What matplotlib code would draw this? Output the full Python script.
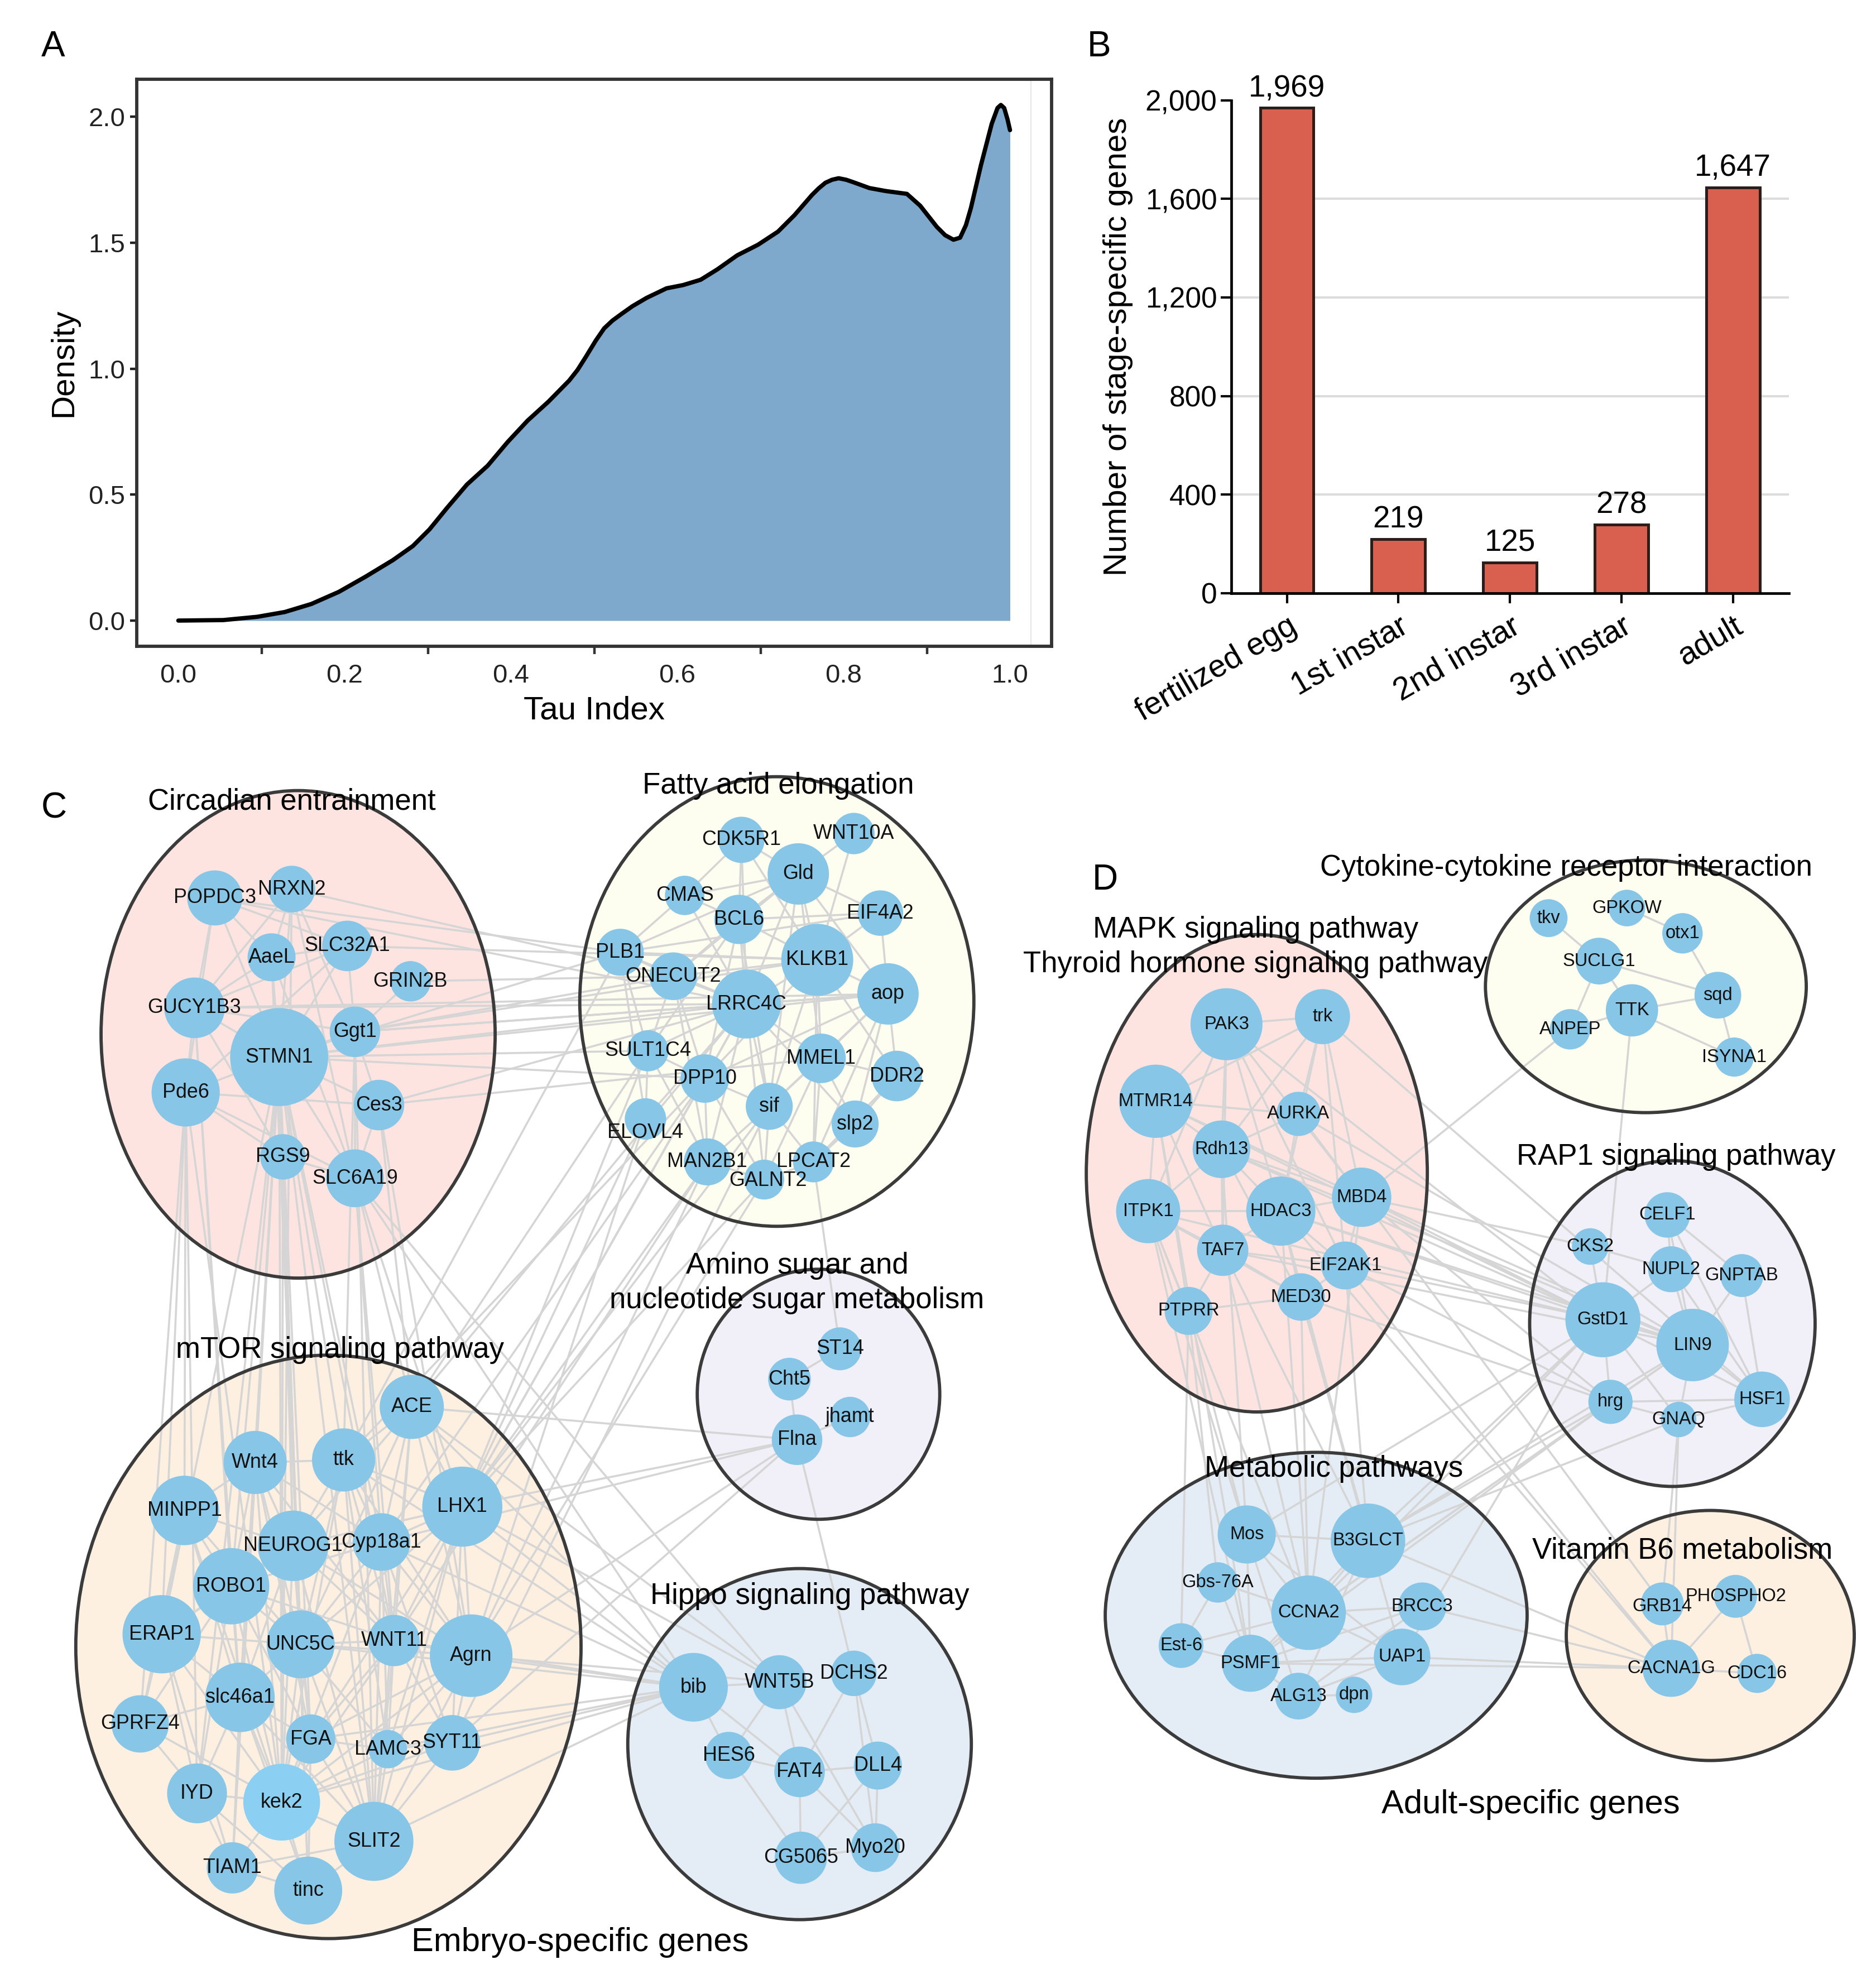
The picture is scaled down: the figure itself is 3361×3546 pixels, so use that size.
import matplotlib
matplotlib.use('Agg')
import matplotlib.pyplot as plt
from matplotlib.patches import Ellipse, Circle
from matplotlib.collections import LineCollection

plt.rcParams['font.family'] = ['Liberation Sans', 'DejaVu Sans']

# ------------------------------------------------------------------ data
# Panel A: density of tau index
tau = [0.000, 0.054, 0.095, 0.128, 0.160, 0.193, 0.225, 0.258, 0.282, 0.302,
       0.323, 0.347, 0.372, 0.396, 0.420, 0.445, 0.470, 0.480, 0.490, 0.502,
       0.512, 0.522, 0.534, 0.546, 0.563, 0.587, 0.607, 0.628, 0.648, 0.672,
       0.697, 0.721, 0.741, 0.762, 0.770, 0.778, 0.786, 0.794, 0.803, 0.811,
       0.831, 0.851, 0.876, 0.892, 0.912, 0.922, 0.932, 0.940, 0.947, 0.953,
       0.965, 0.978, 0.985, 0.989, 0.993, 0.997, 1.000]
density = [0.000, 0.002, 0.015, 0.034, 0.066, 0.114, 0.174, 0.240, 0.296, 0.362,
           0.447, 0.540, 0.615, 0.709, 0.794, 0.869, 0.953, 0.995, 1.047, 1.112,
           1.160, 1.191, 1.220, 1.248, 1.281, 1.319, 1.332, 1.353, 1.394, 1.450,
           1.492, 1.544, 1.610, 1.690, 1.716, 1.738, 1.750, 1.756, 1.750, 1.741,
           1.717, 1.705, 1.694, 1.647, 1.563, 1.530, 1.512, 1.520, 1.570, 1.638,
           1.807, 1.972, 2.035, 2.047, 2.035, 1.990, 1.947]
a_xticks = [0.0, 0.2, 0.4, 0.6, 0.8, 1.0]
a_yticks = [0.0, 0.5, 1.0, 1.5, 2.0]

# Panel B: number of stage-specific genes
stages = ['fertilized egg', '1st instar', '2nd instar', '3rd instar', 'adult']
counts = [1969, 219, 125, 278, 1647]
b_yticks = [0, 400, 800, 1200, 1600, 2000]

# Panel C: embryo-specific gene network
c_groups = {
    'Circadian entrainment': ['POPDC3', 'NRXN2', 'AaeL', 'SLC32A1', 'GRIN2B', 'GUCY1B3',
                              'STMN1', 'Ggt1', 'Pde6', 'Ces3', 'RGS9', 'SLC6A19'],
    'Fatty acid elongation': ['CDK5R1', 'WNT10A', 'Gld', 'CMAS', 'BCL6', 'EIF4A2', 'PLB1',
                              'KLKB1', 'ONECUT2', 'aop', 'LRRC4C', 'SULT1C4', 'MMEL1',
                              'DPP10', 'DDR2', 'sif', 'slp2', 'ELOVL4', 'MAN2B1',
                              'LPCAT2', 'GALNT2'],
    'Amino sugar and\nnucleotide sugar metabolism': ['ST14', 'Cht5', 'jhamt', 'Flna'],
    'mTOR signaling pathway': ['ACE', 'Wnt4', 'ttk', 'MINPP1', 'LHX1', 'NEUROG1', 'Cyp18a1',
                               'ROBO1', 'ERAP1', 'UNC5C', 'WNT11', 'Agrn', 'slc46a1',
                               'GPRFZ4', 'FGA', 'LAMC3', 'SYT11', 'IYD', 'kek2', 'SLIT2',
                               'TIAM1', 'tinc'],
    'Hippo signaling pathway': ['bib', 'WNT5B', 'DCHS2', 'HES6', 'FAT4', 'DLL4',
                                'CG5065', 'Myo20'],
}
c_adj = {
    # circadian internal
    'POPDC3': ['GUCY1B3', 'STMN1', 'AaeL', 'SLC32A1', 'PLB1', 'LRRC4C', 'Pde6'],
    'NRXN2': ['AaeL', 'STMN1', 'SLC6A19', 'Ggt1', 'ONECUT2', 'kek2', 'GUCY1B3'],
    'AaeL': ['GUCY1B3', 'SLC32A1', 'STMN1', 'SLC6A19', 'UNC5C'],
    'SLC32A1': ['Ggt1', 'GUCY1B3', 'STMN1', 'KLKB1', 'Pde6'],
    'GRIN2B': ['Ggt1', 'ONECUT2'],
    'GUCY1B3': ['STMN1', 'Pde6', 'Ggt1', 'RGS9', 'LRRC4C', 'aop', 'ROBO1', 'slc46a1'],
    'STMN1': ['Pde6', 'Ggt1', 'Ces3', 'RGS9', 'SLC6A19', 'LRRC4C', 'SULT1C4', 'DPP10',
              'aop', 'PLB1', 'Wnt4', 'ttk', 'NEUROG1', 'ROBO1', 'UNC5C', 'slc46a1', 'kek2',
              'FGA', 'tinc', 'SLIT2', 'Cyp18a1', 'ERAP1', 'IYD', 'TIAM1', 'WNT11'],
    'Ggt1': ['Ces3', 'SLC6A19', 'LRRC4C', 'KLKB1', 'aop', 'ONECUT2', 'ttk', 'SLIT2'],
    'Pde6': ['Ces3', 'SLC6A19', 'RGS9', 'MINPP1', 'ERAP1', 'kek2', 'IYD', 'GPRFZ4'],
    'Ces3': ['SLC6A19', 'MMEL1', 'LRRC4C', 'ACE', 'Agrn'],
    'RGS9': ['SLC6A19', 'NEUROG1', 'kek2', 'UNC5C'],
    'SLC6A19': ['LHX1', 'ACE', 'Cyp18a1', 'WNT11', 'WNT5B', 'bib'],
    # fatty acid internal
    'CDK5R1': ['Gld', 'BCL6', 'CMAS', 'KLKB1', 'LRRC4C'],
    'WNT10A': ['Gld', 'KLKB1'],
    'Gld': ['BCL6', 'EIF4A2', 'KLKB1', 'LRRC4C', 'aop', 'MMEL1', 'ONECUT2', 'PLB1', 'sif', 'CMAS'],
    'CMAS': ['BCL6', 'PLB1', 'LRRC4C'],
    'BCL6': ['KLKB1', 'LRRC4C', 'ONECUT2', 'SULT1C4', 'DPP10', 'sif', 'EIF4A2'],
    'EIF4A2': ['KLKB1', 'aop', 'PLB1'],
    'PLB1': ['ONECUT2', 'LRRC4C', 'KLKB1', 'SULT1C4', 'ELOVL4', 'ttk'],
    'KLKB1': ['LRRC4C', 'aop', 'MMEL1', 'DDR2', 'sif', 'ONECUT2', 'DPP10', 'LPCAT2'],
    'ONECUT2': ['LRRC4C', 'SULT1C4', 'DPP10', 'MAN2B1'],
    'aop': ['LRRC4C', 'MMEL1', 'DDR2', 'slp2', 'sif', 'LPCAT2', 'DPP10'],
    'LRRC4C': ['SULT1C4', 'DPP10', 'MMEL1', 'sif', 'MAN2B1', 'GALNT2', 'slp2', 'ELOVL4',
               'ACE', 'LHX1'],
    'SULT1C4': ['DPP10', 'ELOVL4', 'MAN2B1', 'LHX1', 'ACE'],
    'MMEL1': ['DDR2', 'sif', 'slp2', 'LPCAT2', 'GALNT2'],
    'DPP10': ['sif', 'MAN2B1', 'GALNT2', 'LHX1', 'Cyp18a1', 'ttk'],
    'DDR2': ['slp2', 'LPCAT2'],
    'sif': ['GALNT2', 'MAN2B1', 'LPCAT2', 'LHX1', 'SYT11'],
    'slp2': ['LPCAT2'],
    'MAN2B1': ['GALNT2', 'LHX1', 'Agrn', 'WNT11'],
    'LPCAT2': ['GALNT2', 'ST14'],
    'ELOVL4': ['LHX1', 'Agrn'],
    'GALNT2': ['Agrn', 'LHX1'],
    # amino sugar
    'ST14': ['Cht5'],
    'Cht5': ['Flna'],
    'Flna': ['jhamt', 'DCHS2', 'LHX1', 'Agrn', 'ACE', 'SYT11', 'Cyp18a1'],
    # mTOR internal
    'MINPP1': ['Wnt4', 'ROBO1', 'ERAP1', 'NEUROG1', 'UNC5C', 'slc46a1', 'kek2', 'GPRFZ4'],
    'Wnt4': ['ttk', 'NEUROG1', 'ROBO1', 'UNC5C', 'Cyp18a1', 'WNT11', 'FGA', 'kek2', 'slc46a1'],
    'ttk': ['ACE', 'LHX1', 'Cyp18a1', 'NEUROG1', 'UNC5C', 'WNT11', 'Agrn', 'SLIT2', 'LAMC3',
            'kek2', 'bib'],
    'ACE': ['LHX1', 'Cyp18a1', 'WNT11', 'Agrn', 'UNC5C', 'NEUROG1', 'SLIT2', 'bib', 'WNT5B'],
    'LHX1': ['Cyp18a1', 'WNT11', 'Agrn', 'SYT11', 'NEUROG1', 'UNC5C', 'SLIT2', 'LAMC3', 'FGA',
             'bib', 'WNT5B'],
    'NEUROG1': ['Cyp18a1', 'ROBO1', 'UNC5C', 'slc46a1', 'WNT11', 'Agrn', 'FGA', 'kek2', 'SLIT2',
                'ERAP1'],
    'Cyp18a1': ['UNC5C', 'WNT11', 'Agrn', 'SYT11', 'LAMC3', 'SLIT2', 'kek2', 'ROBO1', 'bib'],
    'ROBO1': ['ERAP1', 'UNC5C', 'slc46a1', 'kek2', 'IYD', 'GPRFZ4', 'FGA', 'WNT11'],
    'ERAP1': ['slc46a1', 'GPRFZ4', 'IYD', 'UNC5C', 'kek2', 'TIAM1'],
    'UNC5C': ['WNT11', 'slc46a1', 'FGA', 'kek2', 'SLIT2', 'Agrn', 'LAMC3', 'tinc', 'bib'],
    'WNT11': ['Agrn', 'SYT11', 'LAMC3', 'SLIT2', 'FGA', 'kek2', 'bib'],
    'Agrn': ['SYT11', 'LAMC3', 'SLIT2', 'FGA', 'kek2', 'bib', 'WNT5B'],
    'slc46a1': ['GPRFZ4', 'IYD', 'FGA', 'kek2', 'tinc', 'TIAM1', 'SLIT2'],
    'GPRFZ4': ['IYD', 'kek2'],
    'FGA': ['kek2', 'SLIT2', 'LAMC3', 'tinc', 'bib'],
    'LAMC3': ['SYT11', 'SLIT2', 'kek2', 'bib'],
    'SYT11': ['SLIT2', 'kek2', 'bib'],
    'IYD': ['kek2', 'TIAM1', 'tinc'],
    'kek2': ['SLIT2', 'tinc', 'TIAM1', 'bib'],
    'SLIT2': ['tinc', 'TIAM1', 'bib'],
    'TIAM1': ['tinc'],
    # hippo internal
    'bib': ['WNT5B', 'HES6', 'FAT4'],
    'WNT5B': ['HES6', 'FAT4', 'Myo20'],
    'DCHS2': ['FAT4', 'DLL4', 'Myo20'],
    'HES6': ['FAT4', 'CG5065'],
    'FAT4': ['DLL4', 'CG5065', 'Myo20'],
    'DLL4': ['CG5065', 'Myo20'],
    'CG5065': ['Myo20'],
}

# Panel D: adult-specific gene network
d_groups = {
    'Cytokine-cytokine receptor interaction': ['tkv', 'GPKOW', 'otx1', 'SUCLG1', 'sqd', 'TTK',
                                               'ANPEP', 'ISYNA1'],
    'MAPK signaling pathway\nThyroid hormone signaling pathway': [
        'PAK3', 'trk', 'MTMR14', 'AURKA', 'Rdh13', 'ITPK1', 'HDAC3', 'MBD4', 'TAF7',
        'EIF2AK1', 'MED30', 'PTPRR'],
    'RAP1 signaling pathway': ['CELF1', 'CKS2', 'NUPL2', 'GNPTAB', 'GstD1', 'LIN9', 'hrg',
                               'GNAQ', 'HSF1'],
    'Metabolic pathways': ['Mos', 'B3GLCT', 'Gbs-76A', 'CCNA2', 'BRCC3', 'Est-6', 'PSMF1',
                           'UAP1', 'ALG13', 'dpn'],
    'Vitamin B6 metabolism': ['GRB14', 'PHOSPHO2', 'CACNA1G', 'CDC16'],
}
d_adj = {
    'tkv': ['SUCLG1'],
    'GPKOW': ['otx1'],
    'otx1': ['sqd'],
    'SUCLG1': ['sqd', 'TTK', 'ANPEP'],
    'TTK': ['sqd', 'ISYNA1', 'ANPEP', 'GstD1'],
    'sqd': ['ISYNA1'],
    'ANPEP': ['MBD4'],
    'PAK3': ['trk', 'MTMR14', 'Rdh13', 'ITPK1', 'HDAC3', 'TAF7', 'MBD4', 'EIF2AK1', 'GstD1'],
    'trk': ['MTMR14', 'Rdh13', 'AURKA', 'HDAC3', 'MBD4', 'EIF2AK1', 'HSF1'],
    'MTMR14': ['AURKA', 'Rdh13', 'ITPK1', 'TAF7', 'PTPRR', 'MBD4', 'GstD1', 'PSMF1'],
    'AURKA': ['HDAC3', 'MBD4', 'Rdh13', 'LIN9'],
    'Rdh13': ['ITPK1', 'HDAC3', 'TAF7', 'MBD4', 'MED30', 'GstD1', 'LIN9', 'Mos'],
    'ITPK1': ['HDAC3', 'TAF7', 'PTPRR', 'MED30', 'GstD1', 'Mos', 'CCNA2', 'PSMF1'],
    'HDAC3': ['MBD4', 'TAF7', 'EIF2AK1', 'MED30', 'GstD1', 'LIN9', 'B3GLCT', 'CCNA2', 'CACNA1G'],
    'TAF7': ['PTPRR', 'MED30', 'EIF2AK1', 'LIN9', 'CCNA2', 'B3GLCT'],
    'MED30': ['PTPRR', 'EIF2AK1', 'hrg', 'CCNA2', 'B3GLCT', 'UAP1'],
    'MBD4': ['EIF2AK1', 'GstD1', 'LIN9', 'hrg', 'CKS2', 'CCNA2', 'GRB14'],
    'EIF2AK1': ['GstD1', 'hrg', 'B3GLCT', 'CACNA1G'],
    'PTPRR': ['Est-6', 'Mos', 'Gbs-76A'],
    'CELF1': ['NUPL2', 'GNPTAB', 'LIN9', 'HSF1'],
    'CKS2': ['NUPL2', 'GstD1'],
    'NUPL2': ['GstD1', 'LIN9', 'HSF1'],
    'GNPTAB': ['LIN9', 'HSF1'],
    'GstD1': ['LIN9', 'hrg', 'HSF1', 'GNAQ', 'B3GLCT', 'CCNA2', 'Mos', 'UAP1'],
    'LIN9': ['hrg', 'GNAQ', 'HSF1', 'B3GLCT', 'CCNA2'],
    'hrg': ['HSF1', 'GNAQ', 'B3GLCT', 'PSMF1', 'CCNA2'],
    'GNAQ': ['HSF1', 'B3GLCT', 'GRB14', 'CACNA1G'],
    'Mos': ['B3GLCT', 'CCNA2', 'PSMF1', 'UAP1', 'ALG13'],
    'B3GLCT': ['CCNA2', 'PSMF1', 'ALG13', 'CACNA1G'],
    'Gbs-76A': ['Est-6', 'PSMF1', 'CCNA2'],
    'CCNA2': ['UAP1', 'BRCC3', 'PSMF1', 'Est-6'],
    'Est-6': ['PSMF1'],
    'PSMF1': ['UAP1', 'ALG13', 'CACNA1G'],
    'UAP1': ['ALG13', 'CACNA1G'],
    'BRCC3': ['ALG13', 'PSMF1', 'CACNA1G'],
    'ALG13': ['dpn'],
    'GRB14': ['CACNA1G'],
    'PHOSPHO2': ['CACNA1G', 'CDC16'],
    'CACNA1G': ['CDC16'],
}

# ------------------------------------------------------------------ layout (positions, sizes)
W, H = 1485.2, 1567.0   # reference frame in which positions were read
c_pos = {
    'POPDC3': (170, 711, 21.8), 'NRXN2': (231, 704, 18.5), 'AaeL': (215, 758, 19),
    'SLC32A1': (275, 749, 20), 'GRIN2B': (325, 777, 16), 'GUCY1B3': (154, 798, 24),
    'STMN1': (221, 837, 38.8), 'Ggt1': (281, 817, 20), 'Pde6': (147, 865, 27),
    'Ces3': (300, 875, 20), 'RGS9': (224, 916, 18), 'SLC6A19': (281, 933, 22.9),
    'CDK5R1': (587, 665, 18.3), 'WNT10A': (676, 660, 16.4), 'Gld': (632, 692, 24.3),
    'CMAS': (542, 709, 15.6), 'BCL6': (585, 728, 19.5), 'EIF4A2': (697, 723, 18),
    'PLB1': (491, 754, 18.6), 'KLKB1': (647, 760, 28.5), 'ONECUT2': (533, 773, 18.9),
    'aop': (703, 787, 24.3), 'LRRC4C': (591, 795, 27.3), 'SULT1C4': (513, 832, 16.3),
    'MMEL1': (650, 838, 19.6), 'DPP10': (558, 854, 19.2), 'DDR2': (710, 852, 20),
    'sif': (609, 876, 18.6), 'slp2': (677, 890, 18.6), 'ELOVL4': (511, 886, 16.4),
    'MAN2B1': (560, 920, 18.6), 'LPCAT2': (644, 920, 16.2), 'GALNT2': (605, 934, 15.8),
    'ST14': (665, 1068, 17), 'Cht5': (625, 1092, 16.9), 'jhamt': (673, 1122, 16),
    'Flna': (631, 1140, 20),
    'ACE': (326, 1114, 25.4), 'Wnt4': (202, 1158, 25), 'ttk': (272, 1156, 25),
    'MINPP1': (146, 1196, 27.5), 'LHX1': (366, 1193, 31.7), 'NEUROG1': (232, 1224, 27.9),
    'Cyp18a1': (302, 1221, 22.8), 'ROBO1': (183, 1256, 30.2), 'ERAP1': (128, 1294, 31),
    'UNC5C': (238, 1302, 26.9), 'WNT11': (312, 1299, 20.3), 'Agrn': (373, 1311, 32.7),
    'slc46a1': (190, 1344, 27.5), 'GPRFZ4': (111, 1365, 22.7), 'FGA': (246, 1377, 19.5),
    'LAMC3': (307, 1385, 15.2), 'SYT11': (358, 1380, 22), 'IYD': (156, 1420, 23.7),
    'kek2': (223, 1427, 30.4), 'SLIT2': (296, 1458, 31.3), 'TIAM1': (184, 1479, 20.3),
    'tinc': (244, 1497, 26.9),
    'bib': (549, 1336, 27.2), 'WNT5B': (617, 1332, 21.4), 'DCHS2': (676, 1325, 18),
    'HES6': (577, 1390, 18.7), 'FAT4': (633, 1403, 20), 'DLL4': (695, 1398, 19),
    'CG5065': (634, 1471, 20.7), 'Myo20': (693, 1463, 19.3),
}
c_label_shift = {'ELOVL4': (0, 11), 'GALNT2': (3, 1)}
c_ell = {  # cx, cy, rx, ry, fill
    'Circadian entrainment': (236, 819, 156, 193, '#FDE4E0'),
    'Fatty acid elongation': (615, 793, 156, 178, '#FEFEF0'),
    'Amino sugar and\nnucleotide sugar metabolism': (648, 1104, 96, 99, '#F1F0F9'),
    'mTOR signaling pathway': (260, 1304, 200, 231, '#FDF0E1'),
    'Hippo signaling pathway': (633, 1381, 136, 139, '#E4EDF6'),
}
c_title = {
    'Circadian entrainment': (231, 635),
    'Fatty acid elongation': (616, 622),
    'Amino sugar and\nnucleotide sugar metabolism': (631, 1016),
    'mTOR signaling pathway': (269, 1069),
    'Hippo signaling pathway': (641, 1264),
}
d_pos = {
    'tkv': (1226, 727, 15), 'GPKOW': (1288, 719, 14.5), 'otx1': (1332, 739, 16),
    'SUCLG1': (1266, 761, 18.5), 'sqd': (1360, 788, 18.5), 'TTK': (1292, 800, 20.7),
    'ANPEP': (1243, 815, 16), 'ISYNA1': (1373, 837, 15.5),
    'PAK3': (971, 811, 28.5), 'trk': (1047, 805, 21.8), 'MTMR14': (915, 872, 29),
    'AURKA': (1028, 882, 17.5), 'Rdh13': (967, 910, 22.8), 'ITPK1': (909, 959, 25.4),
    'HDAC3': (1014, 959, 27.4), 'MBD4': (1078, 948, 23.5), 'TAF7': (968, 990, 20.3),
    'EIF2AK1': (1065, 1002, 19), 'MED30': (1030, 1027, 18.8), 'PTPRR': (941, 1038, 19),
    'CELF1': (1320, 962, 18), 'CKS2': (1259, 987, 14.5), 'NUPL2': (1323, 1005, 18.2),
    'GNPTAB': (1379, 1010, 17), 'GstD1': (1269, 1045, 29.7), 'LIN9': (1340, 1065, 28.7),
    'hrg': (1275, 1110, 17.5), 'GNAQ': (1329, 1124, 14), 'HSF1': (1395, 1108, 22),
    'Mos': (987, 1215, 23), 'B3GLCT': (1083, 1220, 29.5), 'Gbs-76A': (964, 1253, 16),
    'CCNA2': (1036, 1277, 29.5), 'BRCC3': (1126, 1272, 19), 'Est-6': (935, 1303, 17.7),
    'PSMF1': (990, 1317, 22.6), 'UAP1': (1110, 1312, 22.4), 'ALG13': (1028, 1343, 18.5),
    'dpn': (1072, 1342, 14.4),
    'GRB14': (1316, 1270, 17), 'PHOSPHO2': (1374, 1264, 17), 'CACNA1G': (1323, 1321, 22.6),
    'CDC16': (1391, 1325, 15.5),
}
d_label_shift = {'GRB14': (0, 2)}
d_ell = {
    'Cytokine-cytokine receptor interaction': (1303, 781, 127, 100, '#FEFEF0'),
    'MAPK signaling pathway\nThyroid hormone signaling pathway': (995, 929, 135, 189, '#FDE4E0'),
    'RAP1 signaling pathway': (1324, 1048, 113, 129, '#F1F0F9'),
    'Metabolic pathways': (1042, 1279, 167, 129, '#E4EDF6'),
    'Vitamin B6 metabolism': (1354, 1295, 114, 99, '#FDF0E1'),
}
d_title = {
    'Cytokine-cytokine receptor interaction': (1240, 687),
    'MAPK signaling pathway\nThyroid hormone signaling pathway': (994, 750),
    'RAP1 signaling pathway': (1327, 916),
    'Metabolic pathways': (1056, 1163),
    'Vitamin B6 metabolism': (1332, 1228),
}

NODE = '#88C6E8'
EDGE = '#D5D5D5'
BORDER = '#3B3B3B'

fig = plt.figure(figsize=(33.61, 35.46), dpi=100)

# ------------------------------------------------------------------ network canvas
net = fig.add_axes([0, 0, 1, 1])
net.set_xlim(0, W)
net.set_ylim(H, 0)
net.axis('off')


def draw_network(ax, groups, adj, pos, ell, titles, shifts, fs, bright=()):
    for g, (cx, cy, rx, ry, fc) in ell.items():
        ax.add_patch(Ellipse((cx, cy), 2 * rx, 2 * ry, fc=fc, ec='none', zorder=1))
    segs = []
    for a, nbrs in adj.items():
        for b in nbrs:
            segs.append([(pos[a][0], pos[a][1]), (pos[b][0], pos[b][1])])
    ax.add_collection(LineCollection(segs, colors=EDGE, linewidths=2.6, zorder=2,
                                     capstyle='round'))
    for g, (cx, cy, rx, ry, fc) in ell.items():
        ax.add_patch(Ellipse((cx, cy), 2 * rx, 2 * ry, fc='none', ec=BORDER, lw=4.2, zorder=3))
    for g, members in groups.items():
        for n in members:
            x, y, r = pos[n]
            col = '#8BD0F2' if n in bright else NODE
            ax.add_patch(Circle((x, y), r, fc=col, ec='none', zorder=4))
            dx, dy = shifts.get(n, (0, 0))
            ax.text(x + dx, y + dy, n, fontsize=fs, ha='center', va='center',
                    color='#111111', zorder=5)
    for g, (tx, ty) in titles.items():
        ax.text(tx, ty, g, fontsize=38, ha='center', va='center', zorder=6,
                linespacing=1.3)


draw_network(net, c_groups, c_adj, c_pos, c_ell, c_title, c_label_shift, 25.8,
             bright=('kek2',))
draw_network(net, d_groups, d_adj, d_pos, d_ell, d_title, d_label_shift, 23.5)

net.text(459, 1538, 'Embryo-specific genes', fontsize=43, ha='center', va='center')
net.text(1212, 1429, 'Adult-specific genes', fontsize=43, ha='center', va='center')
for lab, (lx, ly) in {'A': (42, 37), 'B': (870, 37), 'C': (43, 640), 'D': (875, 697)}.items():
    net.text(lx, ly, lab, fontsize=46, ha='center', va='center')

# ------------------------------------------------------------------ panel A
axA = fig.add_axes([245 / 3361, 1 - 1158 / 3546, 1639 / 3361, 1016 / 3546])
axA.fill_between(tau, density, 0, color='#7EA8CC', lw=0, zorder=1)
axA.plot(tau, density, color='black', lw=5.5, zorder=2, solid_capstyle='round',
         solid_joinstyle='round')
axA.axvline(1.025, color='#E6E6E6', lw=1.5, zorder=0)
axA.set_xlim(-0.05, 1.05)
axA.set_ylim(-0.102, 2.149)
axA.set_xticks(a_xticks)
axA.set_xticklabels([f'{v:.1f}' for v in a_xticks])
axA.set_xticks([0.0, 0.1, 0.3, 0.5, 0.7, 0.9], minor=True)
axA.set_yticks(a_yticks)
axA.set_yticklabels([f'{v:.1f}' for v in a_yticks])
axA.tick_params(axis='x', which='major', length=0, pad=22, labelsize=34, colors='#222222')
axA.tick_params(axis='x', which='minor', length=10, width=3.2, color='#333333')
axA.tick_params(axis='y', which='major', length=9, width=3.2, pad=6, labelsize=34,
                colors='#222222')
for s in axA.spines.values():
    s.set_linewidth(4.2)
    s.set_color('#333333')
axA.set_xlabel('Tau Index', fontsize=42, labelpad=10)
axA.set_ylabel('Density', fontsize=42, labelpad=12)

# ------------------------------------------------------------------ panel B
axB = fig.add_axes([2205.6 / 3361, 1 - 1062.8 / 3546, 999 / 3361, 883 / 3546])
xB = range(len(stages))
for gv in [400, 800, 1200, 1600]:
    axB.axhline(gv, color='#DCDCDC', lw=3, zorder=0)
bars = axB.bar(xB, counts, width=0.48, color='#D9604F', edgecolor='#2B1D1A', lw=3.6, zorder=2)
for xi, c in zip(xB, counts):
    axB.annotate(f'{c:,}', (xi, c), xytext=(0, 6), textcoords='offset points',
                 ha='center', va='bottom', fontsize=39.5)
axB.set_xlim(-0.5, 4.5)
axB.set_ylim(0, 2000)
axB.set_yticks(b_yticks)
axB.set_yticklabels([f'{v:,}' for v in b_yticks])
axB.set_xticks(list(xB))
axB.set_xticklabels(stages, rotation=30, ha='right', rotation_mode='anchor')
axB.tick_params(axis='y', length=14, width=3, labelsize=37, pad=4)
axB.tick_params(axis='x', length=13, width=3, labelsize=41, pad=10)
for side in ['top', 'right']:
    axB.spines[side].set_visible(False)
for side in ['left', 'bottom']:
    axB.spines[side].set_linewidth(3.4)
    axB.spines[side].set_color('black')
axB.set_ylabel('Number of stage-specific genes', fontsize=42, labelpad=16)

fig.savefig('out.png', dpi=100)
